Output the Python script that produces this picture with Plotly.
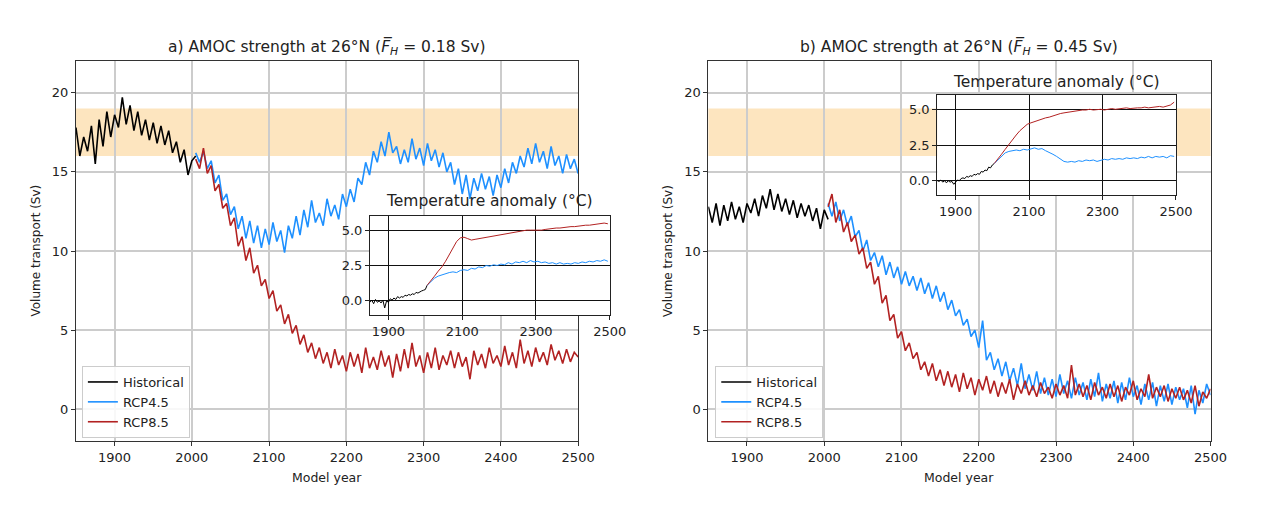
import plotly.graph_objects as go

# ---------------- data ----------------
YEARS_HIST = list(range(1850, 2006, 5))
YEARS_RCP = list(range(2005, 2501, 5))

A_HIST = [17.8, 16.0, 17.2, 16.3, 17.9, 15.5, 18.3, 16.6, 18.8, 17.2, 18.6, 17.8,
          19.7, 18.0, 19.2, 17.6, 18.8, 17.3, 18.3, 17.0, 18.1, 16.8, 17.9, 16.7,
          17.6, 16.2, 16.9, 15.6, 16.4, 14.8, 15.7, 16.0]

A_RCP45 = [16.2, 15.6, 16.3, 15.2, 15.7, 14.3, 14.8, 13.2, 13.6, 12.3, 12.8, 11.4,
           12.2, 10.8, 11.9, 10.5, 11.6, 10.2, 11.4, 10.4, 11.8, 10.6, 11.3, 9.9,
           11.6, 10.8, 12.2, 11.0, 12.6, 11.5, 13.2, 11.8, 12.4, 11.6, 13.3, 12.2,
           12.9, 12.0, 13.6, 12.8, 13.9, 13.1, 14.6, 14.2, 15.6, 14.8, 16.3, 15.6,
           16.9, 16.0, 17.5, 16.2, 16.6, 15.5, 16.4, 15.6, 17.1, 15.8, 16.5, 15.4,
           16.8, 15.7, 16.4, 15.3, 16.2, 15.0, 15.6, 14.2, 15.2, 13.6, 14.8, 13.3,
           14.6, 13.8, 14.9, 13.9, 14.7, 13.5, 14.8, 14.0, 15.2, 14.3, 15.6, 14.9,
           16.0, 15.3, 16.5, 15.5, 16.8, 15.6, 16.3, 15.2, 16.6, 15.4, 16.0, 14.9,
           16.1, 15.2, 15.8, 14.9]

A_RCP85 = [15.8, 15.2, 16.5, 14.9, 15.4, 13.8, 14.2, 12.7, 13.0, 11.6, 12.1, 10.3,
           10.9, 9.4, 10.2, 8.6, 9.1, 7.8, 8.2, 7.0, 7.5, 6.2, 6.6, 5.4,
           6.0, 4.8, 5.3, 4.1, 4.7, 3.6, 4.2, 3.2, 3.9, 2.9, 3.6, 2.6,
           3.8, 2.8, 3.4, 2.4, 3.6, 2.7, 3.5, 2.3, 3.9, 2.6, 3.3, 2.5,
           3.7, 2.7, 3.4, 2.0, 3.5, 2.4, 3.8, 2.6, 4.2, 2.7, 3.4, 2.3,
           3.6, 2.6, 3.9, 2.5, 3.4, 2.8, 3.7, 2.6, 3.6, 2.7, 3.3, 1.9,
           3.7, 2.8, 3.5, 2.6, 3.9, 2.9, 3.4, 2.7, 4.0, 2.8, 3.6, 2.6,
           4.4, 2.9, 3.7, 2.7, 3.9, 3.0, 3.6, 2.8, 4.1, 3.1, 3.7, 2.9,
           3.8, 3.0, 3.6, 3.3]

B_HIST = [12.8, 11.8, 13.0, 11.6, 12.9, 11.9, 13.1, 12.0, 12.8, 11.8, 13.0, 12.4,
          13.3, 12.2, 13.5, 12.7, 13.9, 12.6, 13.6, 12.5, 13.3, 12.3, 13.2, 12.1,
          13.0, 12.2, 12.9, 11.9, 12.7, 11.4, 12.6, 12.0]

B_RCP45 = [13.0, 12.2, 13.1, 11.9, 12.6, 11.6, 12.2, 10.9, 11.3, 10.0, 10.7, 9.4,
           9.9, 9.0, 9.7, 8.5, 9.3, 8.3, 9.0, 7.9, 8.7, 7.8, 8.4, 7.5,
           8.3, 7.3, 8.0, 7.0, 7.8, 6.8, 7.4, 6.3, 6.9, 5.9, 6.3, 5.3,
           5.7, 4.6, 5.0, 3.9, 5.6, 3.1, 3.6, 2.5, 3.2, 2.1, 3.0, 1.8,
           2.6, 1.5, 2.9, 1.3, 2.2, 1.2, 2.4, 1.0, 2.0, 0.9, 1.9, 0.8,
           2.2, 1.0, 1.8, 0.7, 2.0, 0.9, 1.7, 0.6, 1.9, 0.8, 2.3, 0.5,
           1.6, 0.7, 1.8, 0.4, 1.7, 0.6, 2.0, 0.8, 1.5, 0.3, 1.6, 0.6,
           1.7, 0.2, 1.5, 0.5, 1.6, 0.3, 1.4, 0.6, 1.3, 0.1, 1.5, -0.3,
           1.2, 0.4, 1.6, 0.9]

B_RCP85 = [12.8, 13.6, 11.8, 12.6, 11.2, 11.8, 10.6, 11.0, 9.8, 10.2, 8.9, 9.3,
           7.9, 8.4, 6.7, 7.2, 5.6, 6.0, 4.5, 4.9, 3.7, 4.2, 3.2, 3.6,
           2.5, 3.0, 2.1, 2.9, 1.8, 2.5, 1.5, 2.4, 1.4, 2.2, 1.1, 2.3,
           1.3, 2.0, 0.9, 1.9, 1.2, 2.1, 1.0, 1.8, 0.8, 1.7, 1.0, 1.9,
           0.6, 1.6, 1.0, 1.8, 0.9, 1.5, 0.8, 1.7, 1.0, 1.4, 0.7, 1.6,
           0.9, 1.5, 0.7, 2.8, 0.9, 1.6, 0.8, 1.5, 0.6, 1.7, 0.9, 1.4,
           0.7, 1.6, 0.8, 1.5, 0.5, 1.4, 0.9, 1.8, 0.6, 1.3, 0.8, 2.2,
           0.7, 1.4, 0.8, 1.5, 0.5, 1.3, 0.7, 1.4, 0.6, 1.2, 0.4, 1.5,
           0.2, 1.1, 0.7, 1.3]

T_YEARS_HIST = list(range(1850, 2006, 5))
T_YEARS_RCP = list(range(2005, 2501, 10))

TA_HIST = [-0.1, 0.05, -0.2, 0.1, -0.1, 0.0, -0.15, 0.05, -0.5, 0.0, -0.1, 0.15,
           0.05, 0.2, 0.1, 0.3, 0.2, 0.3, 0.25, 0.4, 0.35, 0.45, 0.4, 0.5,
           0.45, 0.6, 0.55, 0.65, 0.7, 0.75, 0.8, 1.1]
TA_RCP45 = [1.1, 1.35, 1.6, 1.75, 1.85, 1.95, 2.0, 2.05, 2.0, 2.15, 2.2, 2.15,
            2.3, 2.25, 2.4, 2.35, 2.5, 2.45, 2.55, 2.5, 2.6, 2.55, 2.7, 2.6,
            2.75, 2.7, 2.8, 2.7, 2.85, 2.75, 2.8, 2.7, 2.75, 2.65, 2.7, 2.6,
            2.7, 2.6, 2.65, 2.6, 2.7, 2.65, 2.75, 2.7, 2.8, 2.75, 2.85, 2.8,
            2.9, 2.8]
TA_RCP85 = [1.1, 1.4, 1.75, 2.1, 2.4, 2.8, 3.3, 3.8, 4.2, 4.45, 4.5, 4.4,
            4.3, 4.35, 4.4, 4.45, 4.5, 4.55, 4.6, 4.65, 4.7, 4.7, 4.8, 4.85,
            4.9, 4.9, 4.95, 5.0, 5.0, 5.0, 4.95, 5.0, 5.05, 5.1, 5.1, 5.15,
            5.15, 5.2, 5.2, 5.25, 5.25, 5.3, 5.3, 5.35, 5.35, 5.4, 5.4, 5.45,
            5.5, 5.45]

TB_HIST = [0.0, -0.05, 0.05, -0.1, 0.0, -0.15, 0.0, -0.1, -0.05, -0.25, -0.1, 0.05,
           0.0, 0.15, 0.2, 0.15, 0.3, 0.25, 0.35, 0.3, 0.45, 0.4, 0.5, 0.45,
           0.65, 0.6, 0.75, 0.7, 0.95, 0.9, 1.1, 1.2]
TB_RCP45 = [1.2, 1.45, 1.7, 1.95, 2.05, 2.1, 2.15, 2.1, 2.2, 2.15, 2.25, 2.3,
            2.2, 2.25, 2.1, 2.0, 1.85, 1.7, 1.5, 1.35, 1.3, 1.35, 1.3, 1.4,
            1.35, 1.45, 1.4, 1.45, 1.35, 1.4, 1.5, 1.45, 1.55, 1.5, 1.55, 1.5,
            1.6, 1.55, 1.6, 1.55, 1.65, 1.6, 1.7, 1.6, 1.7, 1.65, 1.7, 1.6,
            1.75, 1.7]
TB_RCP85 = [1.2, 1.5, 1.85, 2.2, 2.55, 2.9, 3.2, 3.5, 3.75, 3.95, 4.05, 4.15,
            4.25, 4.3, 4.4, 4.45, 4.55, 4.6, 4.7, 4.75, 4.8, 4.85, 4.9, 4.9,
            4.95, 4.95, 5.0, 4.95, 5.0, 5.0, 4.95, 5.0, 5.05, 5.0, 5.05, 5.05,
            5.1, 5.05, 5.1, 5.1, 5.1, 5.15, 5.1, 5.15, 5.15, 5.2, 5.15, 5.2,
            5.3, 5.5]

SERIES_NAMES = ["Historical", "RCP4.5", "RCP8.5"]
COLORS = ["#000000", "#1e90ff", "#b22222"]
BAND = [16, 19]
TITLES = ["a) AMOC strength at 26°N (<i>F\u0305<sub>H</sub></i> = 0.18 Sv)",
          "b) AMOC strength at 26°N (<i>F\u0305<sub>H</sub></i> = 0.45 Sv)"]

W, H = 1266, 515
FONT = "DejaVu Sans"


def px_x(p):
    return p / W


def px_y(p):
    return (H - p) / H


fig = go.Figure()

panels = [
    dict(hist=A_HIST, r45=A_RCP45, r85=A_RCP85, th=TA_HIST, t45=TA_RCP45, t85=TA_RCP85,
         xa="x", ya="y", ixa="x3", iya="y3", legend="legend"),
    dict(hist=B_HIST, r45=B_RCP45, r85=B_RCP85, th=TB_HIST, t45=TB_RCP45, t85=TB_RCP85,
         xa="x2", ya="y2", ixa="x4", iya="y4", legend="legend2"),
]

for p in panels:
    xs = [YEARS_HIST, YEARS_RCP, YEARS_RCP]
    ys = [p["hist"], p["r45"], p["r85"]]
    for name, c, x, y in zip(SERIES_NAMES, COLORS, xs, ys):
        fig.add_trace(go.Scatter(x=x, y=y, mode="lines", name=name,
                                 line=dict(color=c, width=1.6),
                                 xaxis=p["xa"], yaxis=p["ya"], legend=p["legend"]))
for p in panels:
    xs = [T_YEARS_HIST, T_YEARS_RCP, T_YEARS_RCP]
    ys = [p["th"], p["t45"], p["t85"]]
    for name, c, x, y in zip(SERIES_NAMES, COLORS, xs, ys):
        fig.add_trace(go.Scatter(x=x, y=y, mode="lines", name=name, showlegend=False,
                                 line=dict(color=c, width=1.0),
                                 xaxis=p["ixa"], yaxis=p["iya"]))

main_ax = dict(range=[1850, 2500], showgrid=True, gridcolor="#cccccc", gridwidth=1.5,
               showline=True, linecolor="#333333", linewidth=1, mirror=True,
               ticks="outside", ticklen=4, tickcolor="#333333", zeroline=False,
               tickfont=dict(family=FONT, size=13, color="#222222"))
x_main = dict(main_ax, tickvals=[1900, 2000, 2100, 2200, 2300, 2400, 2500])
y_main = dict(main_ax, range=[-2, 22], tickvals=[0, 5, 10, 15, 20])

inset_ax = dict(showgrid=True, gridcolor="#111111", gridwidth=1,
                showline=True, linecolor="#222222", linewidth=1, mirror=True,
                ticks="outside", ticklen=4, tickcolor="#222222", zeroline=False,
                tickfont=dict(family=FONT, size=13, color="#222222"))
x_in = dict(inset_ax, range=[1850, 2500], tickvals=[1900, 2100, 2300, 2500])
y_in = dict(inset_ax, range=[-1, 6], tickvals=[0, 2.5, 5], tickformat=".1f")

MAIN_Y = [px_y(441), px_y(61)]
INSET_A = dict(x=[px_x(375), px_x(618)], y=[px_y(315), px_y(216)])
INSET_B = dict(x=[px_x(950), px_x(1192)], y=[px_y(195), px_y(95)])

fig.update_layout(
    width=W, height=H,
    margin=dict(l=0, r=0, t=0, b=0),
    paper_bgcolor="white", plot_bgcolor="white",
    font=dict(family=FONT, color="#222222"),
    xaxis=dict(x_main, domain=[px_x(77), px_x(586)], anchor="y"),
    yaxis=dict(y_main, domain=MAIN_Y, anchor="x"),
    xaxis2=dict(x_main, domain=[px_x(718), px_x(1227)], anchor="y2"),
    yaxis2=dict(y_main, domain=MAIN_Y, anchor="x2"),
    xaxis3=dict(x_in, domain=INSET_A["x"], anchor="y3"),
    yaxis3=dict(y_in, domain=INSET_A["y"], anchor="x3"),
    xaxis4=dict(x_in, domain=INSET_B["x"], anchor="y4"),
    yaxis4=dict(y_in, domain=INSET_B["y"], anchor="x4"),
    legend=dict(x=px_x(83), y=px_y(366), xanchor="left", yanchor="top",
                bgcolor="rgba(255,255,255,0.85)", bordercolor="#cccccc", borderwidth=1,
                font=dict(family=FONT, size=13, color="#222222")),
    legend2=dict(x=px_x(725), y=px_y(366), xanchor="left", yanchor="top",
                 bgcolor="rgba(255,255,255,0.85)", bordercolor="#cccccc", borderwidth=1,
                 font=dict(family=FONT, size=13, color="#222222")),
    showlegend=True,
)

# shaded observational band in both main panels
for xa, ya in [("x", "y"), ("x2", "y2")]:
    fig.add_shape(type="rect", xref=f"{xa} domain", yref=ya, x0=0, x1=1,
                  y0=BAND[0], y1=BAND[1], fillcolor="#fde5bf", line=dict(width=0),
                  layer="below")

annotations = []
for title, cx in zip(TITLES, [331, 972]):
    annotations.append(dict(text=title, x=px_x(cx), y=px_y(47), xref="paper", yref="paper",
                            showarrow=False, xanchor="center", yanchor="middle",
                            font=dict(family=FONT, size=15.5, color="#222222")))
for lx in [36, 677]:
    annotations.append(dict(text="Volume transport (Sv)", x=px_x(lx), y=px_y(251),
                            xref="paper", yref="paper", showarrow=False, textangle=-90,
                            xanchor="center", yanchor="middle",
                            font=dict(family=FONT, size=12, color="#222222")))
for cx in [331, 972]:
    annotations.append(dict(text="Model year", x=px_x(cx), y=px_y(477), xref="paper",
                            yref="paper", showarrow=False, xanchor="center", yanchor="middle",
                            font=dict(family=FONT, size=12.5, color="#222222")))
for cx, cy in [(496.5, 201), (1071, 82)]:
    annotations.append(dict(text="Temperature anomaly (°C)", x=px_x(cx), y=px_y(cy),
                            xref="paper", yref="paper", showarrow=False,
                            xanchor="center", yanchor="middle",
                            font=dict(family=FONT, size=15.5, color="#222222")))
fig.update_layout(annotations=annotations)

fig.write_html("out.html")
